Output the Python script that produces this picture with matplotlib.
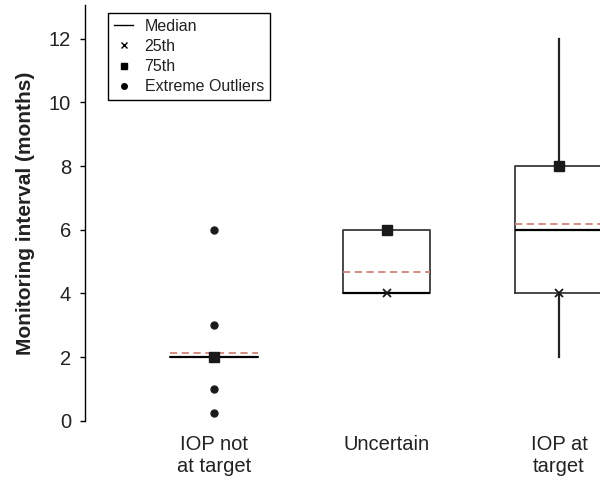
import matplotlib
matplotlib.use('Agg')
import matplotlib.pyplot as plt
from matplotlib.lines import Line2D

plt.rcParams['font.family'] = ['Liberation Sans', 'DejaVu Sans']

groups = ['IOP not\nat target', 'Uncertain', 'IOP at\ntarget']
q1 = [2, 4, 4]
medians = [2, 4, 6]
q3 = [2, 6, 8]
means = [2.12, 4.66, 6.17]
whis_lo = [2, 4, 2]
whis_hi = [2, 6, 12]
outliers = [[6, 3, 1, 0.25], [], []]

positions = [1, 2, 3]

stats = []
for i in range(len(groups)):
    stats.append(dict(label=groups[i], q1=q1[i], med=medians[i], q3=q3[i],
                      mean=means[i], whislo=whis_lo[i], whishi=whis_hi[i],
                      fliers=outliers[i]))

fig = plt.figure(figsize=(6, 4.82), dpi=100)
ax = fig.add_axes([85/600, 61.3/482, 1 - 85/600, (420.7 - 5)/482])

ax.bxp(stats, positions=positions, widths=0.505, showcaps=False, showmeans=True,
       meanline=True, showfliers=True,
       boxprops=dict(color='#3a3a3a', linewidth=1.3),
       medianprops=dict(color='black', linewidth=1.6),
       whiskerprops=dict(color='#222222', linewidth=1.6),
       meanprops=dict(color='#d08478', linewidth=1.3, linestyle=(0, (4, 2.5))),
       flierprops=dict(marker='o', markersize=5, markerfacecolor='#1a1a1a',
                       markeredgecolor='#1a1a1a'))

ax.plot(positions, q1, linestyle='none', marker='x', markersize=6,
        color='#1a1a1a', markeredgewidth=1.3, zorder=5)
ax.plot(positions, q3, linestyle='none', marker='s', markersize=6.5,
        color='#1a1a1a', zorder=5)

ax.set_xlim(0.252, 3.2375)
ax.set_ylim(0, 13.06)
ax.set_yticks(range(0, 13, 2))
ax.set_xticks(positions)
ax.set_xticklabels(groups, fontsize=14.5, color='#222222')
ax.tick_params(axis='x', length=0, pad=10.5)
ax.tick_params(axis='y', direction='out', length=3.6, width=1, pad=6.5,
               labelsize=14.5, labelcolor='#222222')
for s in ['top', 'right', 'bottom']:
    ax.spines[s].set_visible(False)
ax.spines['left'].set_linewidth(1)
ax.set_ylabel('Monitoring interval (months)', fontsize=15, fontweight='bold',
              labelpad=10, color='#222222')

handles = [
    Line2D([], [], color='black', linewidth=1),
    Line2D([], [], linestyle='none', marker='x', markersize=4.5, color='black'),
    Line2D([], [], linestyle='none', marker='s', markersize=4.5, color='black'),
    Line2D([], [], linestyle='none', marker='o', markersize=4, color='black'),
]
leg = ax.legend(handles, ['Median', '25th', '75th', 'Extreme Outliers'],
                loc='upper left', bbox_to_anchor=(0.045, 0.981), borderaxespad=0,
                fontsize=11.5, fancybox=False, framealpha=1, edgecolor='black',
                handlelength=1.2, handletextpad=0.7, borderpad=0.38,
                labelspacing=0.32)
leg.get_frame().set_linewidth(1)
for t in leg.get_texts():
    t.set_color('#222222')

fig.savefig('out.png', dpi=100)
